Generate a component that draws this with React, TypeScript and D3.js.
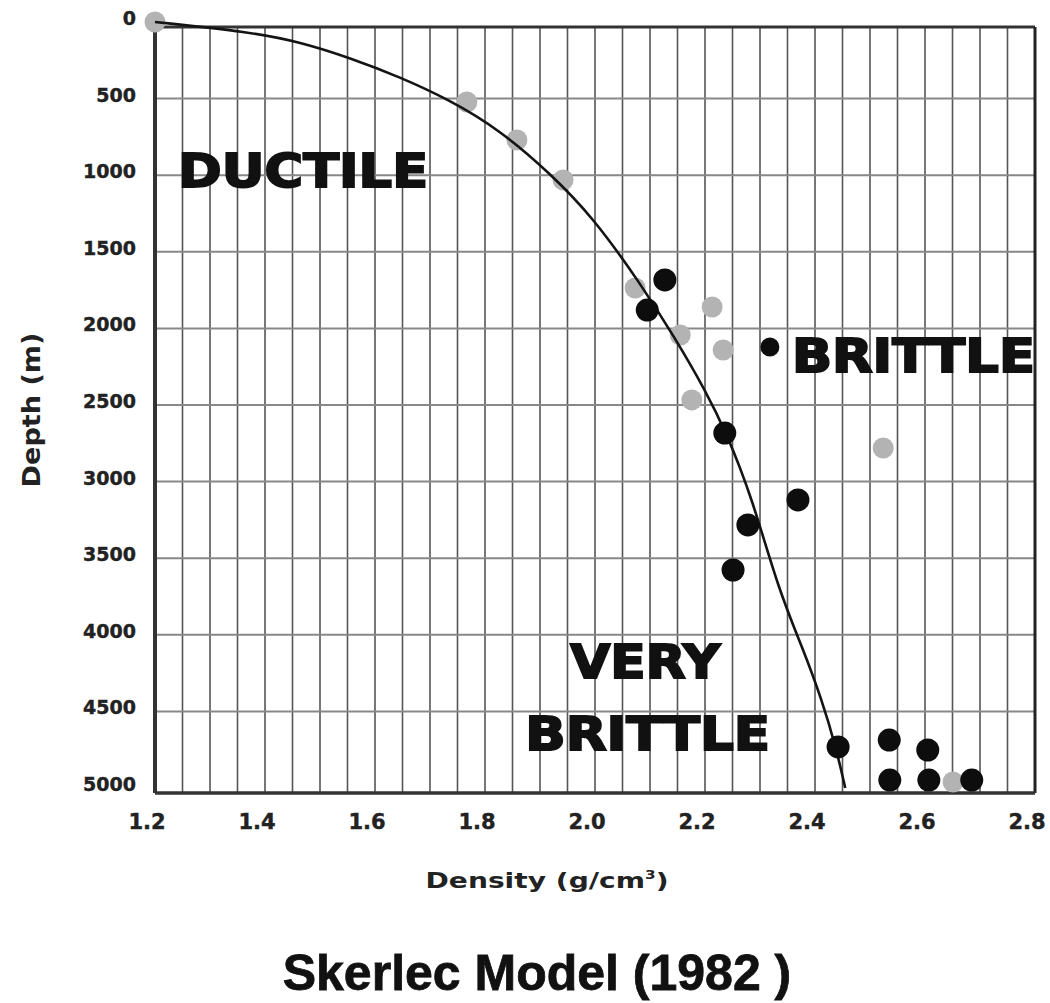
import React from 'react';
import * as d3 from 'd3';

// ---- data ----
const densityTicks = [1.2, 1.4, 1.6, 1.8, 2.0, 2.2, 2.4, 2.6, 2.8];
const depthTicks = [0, 500, 1000, 1500, 2000, 2500, 3000, 3500, 4000, 4500, 5000];

const grayDensity = [1.2, 1.767, 1.858, 1.942, 2.073, 2.213, 2.155, 2.233, 2.176, 2.524, 2.651];
const grayDepth = [0, 522, 770, 1031, 1736, 1860, 2043, 2141, 2467, 2781, 4961];

const blackDensity = [2.127, 2.095, 2.236, 2.369, 2.278, 2.251, 2.442, 2.535, 2.605, 2.536, 2.607, 2.685];
const blackDepth = [1684, 1880, 2683, 3120, 3283, 3577, 4732, 4687, 4752, 4948, 4948, 4948];

const smallBlackDensity = [2.318];
const smallBlackDepth = [2121];

const curveDensity = [1.2, 1.2, 1.373, 1.464, 1.555, 1.645, 1.736, 1.827, 1.918, 1.996, 2.082, 2.145, 2.200, 2.240, 2.285, 2.335, 2.378, 2.412, 2.438, 2.455, 2.455];
const curveDepth = [0, 0, 65, 131, 235, 359, 509, 705, 986, 1273, 1704, 2060, 2400, 2690, 3100, 3720, 4090, 4420, 4732, 5000, 5000];

const regionLabels = ['DUCTILE', 'BRITTLE', 'VERY', 'BRITTLE'];
const regionDensity = [1.242, 2.358, 1.955, 1.873];
const regionDepth = [1077, 2285, 4282, 4752];
const regionWidths = [250, 243, 150, 245];

export default function App() {
  const W = 1050;
  const H = 1003;
  const left = 155, right = 1035;
  const x = d3.scaleLinear().domain([1.2, 2.8]).range([left, right]);
  const y = d3.scaleLinear().domain([0, 5000]).range([22, 788]);

  const vGrid = d3.range(25, 56).map((i) => i / 20);
  const hGrid = d3.range(1, 10).map((i) => i * 500);

  const line = d3
    .line<number>()
    .x((_, i) => x(curveDensity[i]))
    .y((_, i) => y(curveDepth[i]))
    .curve(d3.curveBasis);

  const frameTop = y(0) + 5;
  const frameBottom = y(5000) + 5;
  const font = "'DejaVu Sans', sans-serif";

  return (
    <svg width={W} height={H} style={{ position: 'absolute', left: 0, top: 0, background: '#fff' }}>
      <rect x={0} y={0} width={W} height={H} fill="#fff" />
      {/* grid */}
      {vGrid.map((v) => (
        <line key={'v' + v} x1={x(v)} x2={x(v)} y1={frameTop} y2={frameBottom} stroke="#555" strokeWidth={1.6} />
      ))}
      {hGrid.map((v) => (
        <line key={'h' + v} x1={left} x2={right} y1={y(v)} y2={y(v)} stroke="#888" strokeWidth={2} />
      ))}
      {/* frame */}
      <line x1={left} x2={right} y1={frameTop} y2={frameTop} stroke="#333" strokeWidth={3} />
      <line x1={right} x2={right} y1={frameTop} y2={frameBottom} stroke="#222" strokeWidth={3} />
      <line x1={left} x2={right} y1={frameBottom} y2={frameBottom} stroke="#333" strokeWidth={3.5} />
      <line x1={left} x2={left} y1={frameTop} y2={frameBottom} stroke="#333" strokeWidth={4} />

      {/* gray points */}
      {grayDensity.map((d, i) => (
        <circle key={'g' + i} cx={x(d)} cy={y(grayDepth[i])} r={10.5} fill="#b3b3b3" />
      ))}
      {/* curve */}
      <path d={line(curveDensity) || ''} fill="none" stroke="#141414" strokeWidth={2.6} />
      {/* black points */}
      {blackDensity.map((d, i) => (
        <circle key={'b' + i} cx={x(d)} cy={y(blackDepth[i])} r={11.5} fill="#0d0d0d" />
      ))}
      {smallBlackDensity.map((d, i) => (
        <circle key={'s' + i} cx={x(d)} cy={y(smallBlackDepth[i])} r={9.5} fill="#0d0d0d" />
      ))}

      {/* region labels */}
      {regionLabels.map((t, i) => (
        <text
          key={'r' + i}
          x={x(regionDensity[i])}
          y={y(regionDepth[i])}
          fontFamily={font}
          fontWeight="bold"
          fontSize={46}
          textLength={regionWidths[i]}
          lengthAdjust="spacingAndGlyphs"
          fill="#111"
          stroke="#111"
          strokeWidth={2}
        >
          {t}
        </text>
      ))}

      {/* y tick labels */}
      {depthTicks.map((v) => (
        <text
          key={'yt' + v}
          x={136}
          y={y(v) + 3}
          textAnchor="end"
          fontFamily={font}
          fontWeight="bold"
          fontSize={19}
          fill="#222"
          stroke="#222"
          strokeWidth={0.4}
        >
          {v}
        </text>
      ))}
      {/* x tick labels */}
      {densityTicks.map((v) => (
        <text
          key={'xt' + v}
          x={x(v) - 8}
          y={frameBottom + 36}
          textAnchor="middle"
          fontFamily={font}
          fontWeight="bold"
          fontSize={21}
          fill="#222"
          stroke="#222"
          strokeWidth={0.4}
        >
          {v.toFixed(1)}
        </text>
      ))}

      {/* axis titles */}
      <text
        transform={`translate(40, ${(frameTop + frameBottom) / 2}) rotate(-90)`}
        textAnchor="middle"
        fontFamily={font}
        fontWeight="bold"
        fontSize={24}
        textLength={155}
        lengthAdjust="spacingAndGlyphs"
        fill="#222"
      >
        Depth (m)
      </text>
      <text
        x={547}
        y={888}
        textAnchor="middle"
        fontFamily={font}
        fontWeight="bold"
        fontSize={22}
        textLength={243}
        lengthAdjust="spacingAndGlyphs"
        fill="#222"
      >
        Density (g/cm<tspan dy={-9} fontSize={12}>3</tspan><tspan dy={9}>)</tspan>
      </text>

      {/* title */}
      <text
        x={537}
        y={990}
        textAnchor="middle"
        fontFamily="'Liberation Sans', Arial, sans-serif"
        fontWeight="bold"
        fontSize={50}
        fill="#111"
        stroke="#111"
        strokeWidth={0.8}
      >
        Skerlec Model (1982 )
      </text>
    </svg>
  );
}
